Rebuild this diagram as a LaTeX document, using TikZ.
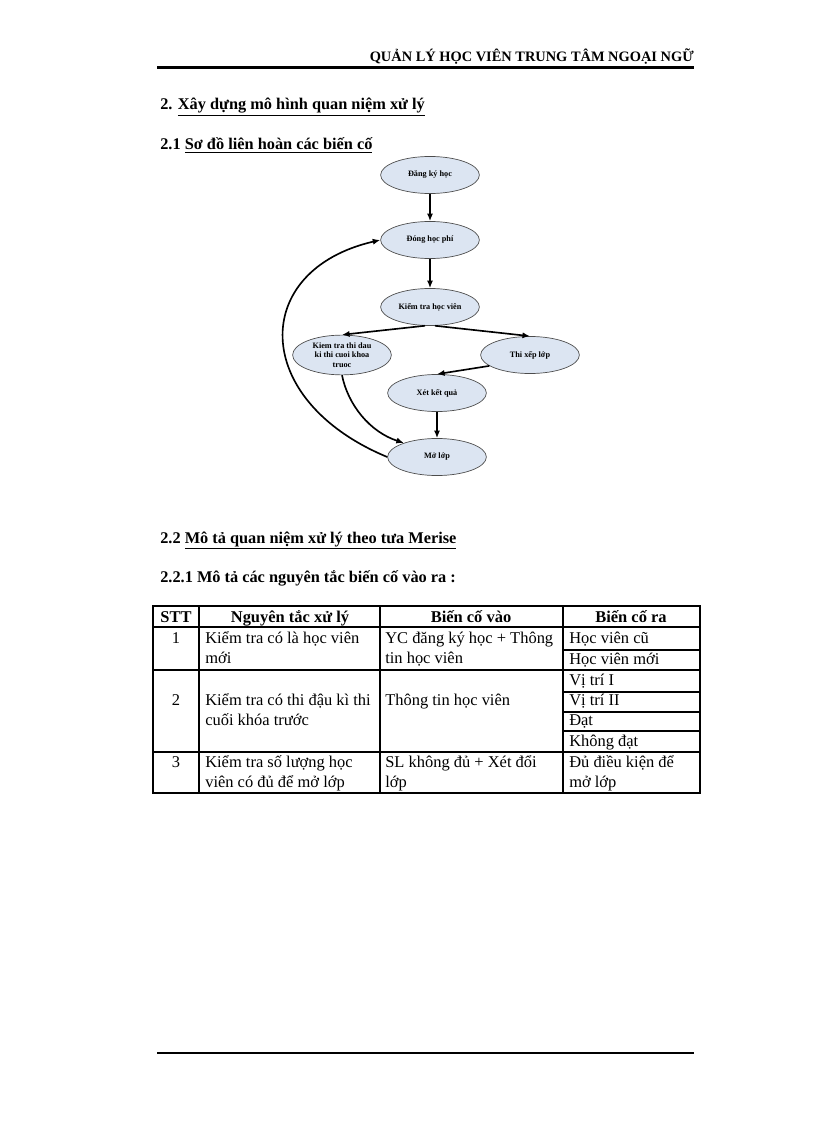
\documentclass[tikz,border=0pt]{standalone}
\usepackage{fontspec}
\setmainfont{Liberation Serif}
\usetikzlibrary{shapes.geometric,arrows.meta}
\definecolor{evfill}{HTML}{DCE5F2}
\begin{document}
\begin{tikzpicture}[x=0.729pt, y=-0.729pt, font=\fontsize{12}{14}\selectfont,
  event/.style={draw=black!70, line width=.5pt, fill=evfill, ellipse, minimum width=72pt, minimum height=27pt, inner sep=0pt, align=center, font=\fontsize{6}{7}\selectfont\bfseries},
  flow/.style={line width=1.2pt, -{Latex[length=5.5pt,width=4.5pt]}},
  rule/.style={line width=.8pt},
  txt/.style={anchor=base west, inner sep=0pt},
  ctxt/.style={anchor=base, inner sep=0pt},
  htxt/.style={anchor=base west, inner sep=0pt, font=\fontsize{11.9}{14}\selectfont\bfseries}]
\useasboundingbox (0,0) rectangle (816,1123);
% header and footer
\node[anchor=base east, inner sep=0pt, font=\fontsize{10.5}{12}\selectfont\bfseries] (head) at (694,62) {QUẢN LÝ HỌC VIÊN TRUNG TÂM NGOẠI NGỮ};
\draw[line width=1.5pt] (157,67.5) -- (694,67.5);
\draw[line width=1.5pt] (157,1053) -- (694,1053);
% headings
\node[htxt] (h2) at (160,110) {2. \underline{Xây dựng mô hình quan niệm xử lý}};
\node[htxt] (h21) at (160,150) {2.1 \underline{Sơ đồ liên hoàn các biến cố}};
\node[htxt] (h22) at (160,543) {2.2 \underline{Mô tả quan niệm xử lý theo tưa Merise}};
\node[htxt] (h221) at (160,582) {2.2.1 Mô tả các nguyên tắc biến cố vào ra :};
% events
\node[event] (dk) at (430,175) {Đăng ký học};
\node[event] (dp) at (430,240) {Đóng học phí};
\node[event] (kt) at (430,307) {Kiểm tra học viên};
\node[event, minimum height=29pt] (kc) at (342,355) {Kiem tra thi dau\\ki thi cuoi khoa\\truoc};
\node[event] (tx) at (530,355) {Thi xếp lớp};
\node[event] (xk) at (437,393) {Xét kết quả};
\node[event] (ml) at (437,457) {Mở lớp};
\draw[flow] (dk) -- (dp);
\draw[flow] (dp) -- (kt);
\draw[flow] (kt.-105) -- (kc.north);
\draw[flow] (kt.-75) -- (tx.north);
\draw[flow] (tx.195) -- (xk.north);
\draw[flow] (xk) -- (ml);
\draw[flow] (kc.south) .. controls (348,405) and (370,432) .. (ml.157);
\draw[flow] (ml.west) .. controls (250,400) and (250,270) .. (dp.west);
% table
\draw[rule] (153,606) rectangle (700,793);
\draw[rule] (153,627) -- (700,627);
\draw[rule] (153,670) -- (700,670);
\draw[rule] (153,752) -- (700,752);
\foreach \y in {650,692,712,731} \draw[rule] (563,\y) -- (700,\y);
\foreach \x in {199,380,563} \draw[rule] (\x,606) -- (\x,793);
\node[ctxt, font=\fontsize{12}{14}\selectfont\bfseries] (c1) at (176,622) {STT};
\node[ctxt, font=\fontsize{12}{14}\selectfont\bfseries] (c2) at (290,622) {Nguyên tắc xử lý};
\node[ctxt, font=\fontsize{12}{14}\selectfont\bfseries] (c3) at (471,622) {Biến cố vào};
\node[ctxt, font=\fontsize{12}{14}\selectfont\bfseries] (c4) at (631,622) {Biến cố ra};
\node[ctxt] (n1) at (176,643) {1};
\node[txt] (p1a) at (205,643) {Kiểm tra có là học viên};
\node[txt] (p1b) at (205,663) {mới};
\node[txt] (i1a) at (385,643) {YC đăng ký học + Thông};
\node[txt] (i1b) at (385,663) {tin học viên};
\node[txt] (o1a) at (569,643) {Học viên cũ};
\node[txt] (o1b) at (569,664) {Học viên mới};
\node[ctxt] (n2) at (176,705) {2};
\node[txt] (p2a) at (205,705) {Kiểm tra có thi đậu kì thi};
\node[txt] (p2b) at (205,725) {cuối khóa trước};
\node[txt] (i2) at (385,705) {Thông tin học viên};
\node[txt] (o2a) at (569,685) {Vị trí I};
\node[txt] (o2b) at (569,705) {Vị trí II};
\node[txt] (o2c) at (569,725) {Đạt};
\node[txt] (o2d) at (569,746) {Không đạt};
\node[ctxt] (n3) at (176,767) {3};
\node[txt] (p3a) at (205,767) {Kiểm tra số lượng học};
\node[txt] (p3b) at (205,787) {viên có đủ để mở lớp};
\node[txt] (i3a) at (385,767) {SL không đủ + Xét đổi};
\node[txt] (i3b) at (385,787) {lớp};
\node[txt] (o3a) at (569,767) {Đủ điều kiện để};
\node[txt] (o3b) at (569,787) {mở lớp};
\end{tikzpicture}
\end{document}
